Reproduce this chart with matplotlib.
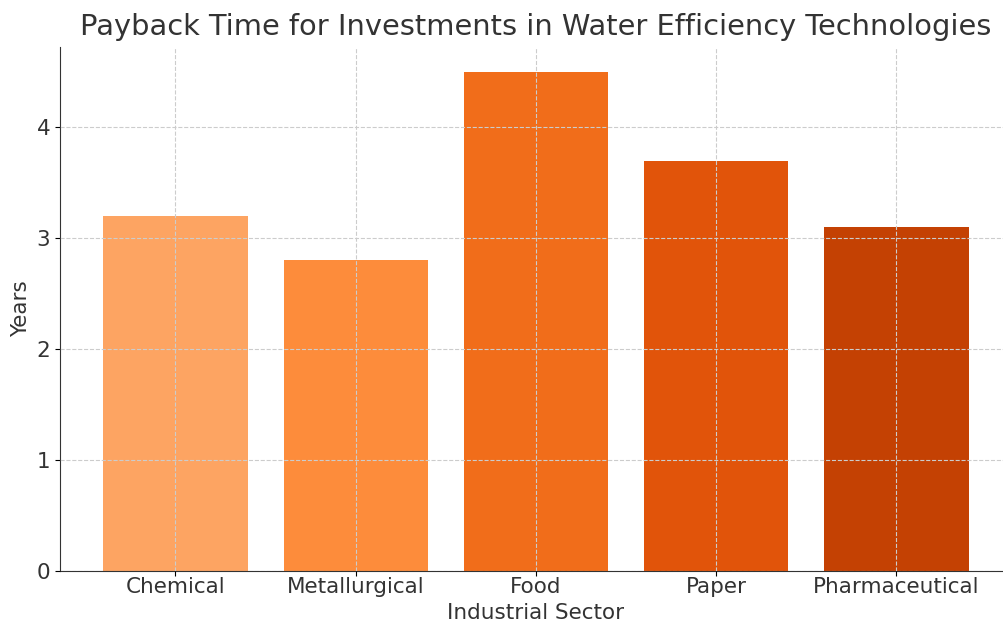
import numpy as np
import matplotlib.pyplot as plt

sectors = ["Chemical", "Metallurgical", "Food", "Paper", "Pharmaceutical"]
years = [3.2, 2.8, 4.5, 3.7, 3.1]
bar_colors = ["#fda462", "#fd8c3b", "#f16d1a", "#e1540a", "#c44103"]

fig = plt.figure(figsize=(10.04, 6.23), dpi=100)
ax = fig.add_axes([0.0598, 0.0835, 0.948, 0.841])

x = np.arange(len(sectors))
ax.bar(x, years, width=0.8, color=bar_colors)
ax.set_xticks(x)
ax.set_xticklabels(sectors, fontsize=15.5, color="#333333")
ax.tick_params(axis="y", labelsize=15.5, labelcolor="#333333")
ax.tick_params(axis="x", pad=1)
ax.set_ylim(0, 4.725)
ax.set_xlim(-0.64, 4.64)
ax.set_xlabel("Industrial Sector", fontsize=15.5, color="#333333", labelpad=4)
ax.set_ylabel("Years", fontsize=15.5, color="#333333")
ax.set_title("Payback Time for Investments in Water Efficiency Technologies",
             fontsize=20.8, color="#333333", pad=9)
ax.grid(True, linestyle="--", color="#cccccc", linewidth=0.8)
ax.set_axisbelow(False)
ax.spines["top"].set_visible(False)
ax.spines["right"].set_visible(False)
ax.spines["left"].set_color("#333333")
ax.spines["bottom"].set_color("#333333")

fig.savefig("out.png", dpi=100)
